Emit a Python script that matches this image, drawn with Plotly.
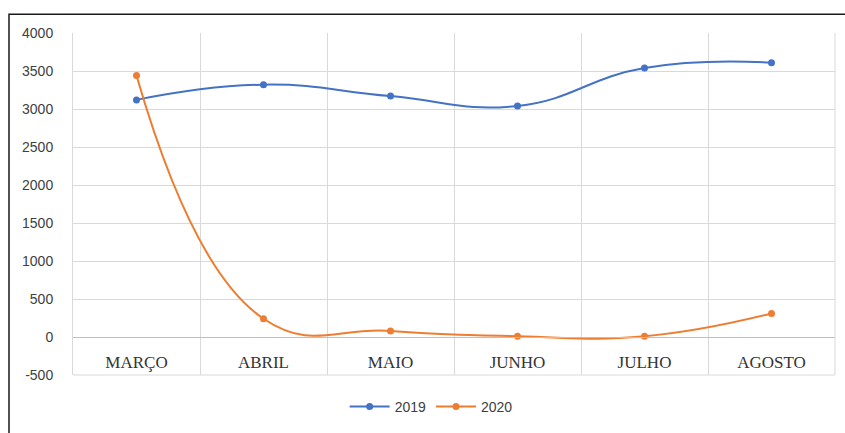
import plotly.graph_objects as go

months = ["MARÇO", "ABRIL", "MAIO", "JUNHO", "JULHO", "AGOSTO"]
values_2019 = [3120, 3320, 3170, 3040, 3540, 3610]
values_2020 = [3440, 240, 80, 10, 10, 310]
y_ticks = [-500, 0, 500, 1000, 1500, 2000, 2500, 3000, 3500, 4000]
y_tick_text = ["-500", "0", "500", "1000", "1500", "2000", "2500", "3000", "3500", "4000"]

y_min, y_max = -500, 4000

fig = go.Figure()
fig.add_trace(go.Scatter(
    x=months, y=values_2019, name="2019", mode="lines+markers",
    line=dict(color="#4472C4", width=2, shape="spline", smoothing=1.3),
    marker=dict(size=7, color="#4472C4"),
))
fig.add_trace(go.Scatter(
    x=months, y=values_2020, name="2020", mode="lines+markers",
    line=dict(color="#ED7D31", width=2, shape="spline", smoothing=1.3),
    marker=dict(size=7, color="#ED7D31"),
))

zero_pos = (0 - y_min) / (y_max - y_min)

fig.update_layout(
    width=845, height=433,
    margin=dict(l=73, r=10, t=33, b=55),
    paper_bgcolor="white", plot_bgcolor="white",
    showlegend=True,
    legend=dict(orientation="h", x=0.47, xanchor="center", y=-0.093, yanchor="middle",
                font=dict(family="Liberation Sans, Arial", size=14, color="#404040"),
                itemwidth=40),
    xaxis=dict(
        type="category", range=[-0.5, 5.5],
        anchor="free", position=zero_pos,
        tickson="boundaries", showgrid=True, gridcolor="#d9d9d9", gridwidth=1,
        showline=True, linecolor="#bfbfbf", linewidth=1,
        ticks="", ticklabelstandoff=10,
        tickfont=dict(family="Liberation Serif, Times New Roman", size=17, color="#333333"),
        zeroline=False,
    ),
    yaxis=dict(
        range=[y_min, y_max], tickvals=y_ticks, ticktext=y_tick_text, domain=[0, 1],
        showgrid=True, gridcolor="#d9d9d9", gridwidth=1,
        showline=True, linecolor="#d9d9d9", linewidth=1,
        ticks="outside", ticklen=16, tickcolor="rgba(0,0,0,0)",
        tickfont=dict(family="Liberation Sans, Arial", size=14, color="#404040"),
        zeroline=False,
    ),
)

# outer chart frame (left & top visible, extending beyond window)
fig.add_shape(type="rect", xref="paper", yref="paper",
              x0=(9 - 73) / 762, x1=1.2, y0=-0.4, y1=1 + (33 - 14) / 345,
              line=dict(color="#1a1a1a", width=1.5), fillcolor="rgba(0,0,0,0)", layer="below")
fig.add_shape(type="line", xref="paper", yref="paper", x0=1, x1=1, y0=0, y1=1,
              line=dict(color="#d9d9d9", width=1))
fig.add_shape(type="line", xref="paper", yref="paper", x0=0, x1=1, y0=0, y1=0,
              line=dict(color="#d9d9d9", width=1))

fig.write_html("out.html")
